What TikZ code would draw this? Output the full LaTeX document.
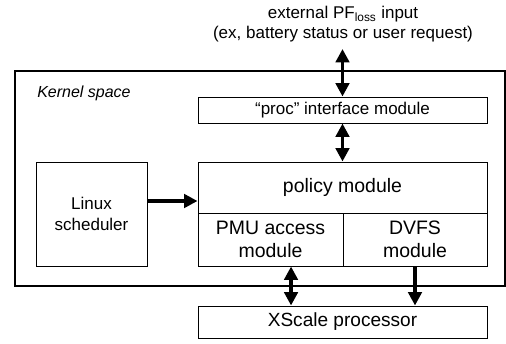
\documentclass[tikz,border=0pt]{standalone}
\usepackage{fontspec}
\setmainfont{Liberation Sans}
\usetikzlibrary{arrows.meta}

\tikzset{
	box/.style={draw, line width=0.75pt, inner sep=0pt, align=center},
	arr/.style={line width=2.6pt, -{Triangle[width=10pt,length=10pt]}},
	darr/.style={line width=2.6pt, {Triangle[width=10pt,length=10pt]}-{Triangle[width=10pt,length=10pt]}},
}

\begin{document}
\begin{tikzpicture}[x=0.75pt,y=0.75pt,yscale=-1,xscale=1]
	\useasboundingbox (0,0) rectangle (506,343);

	%Shape: Kernel space frame
	\draw [line width=1.9pt] (15,71) rectangle (505,286) ;
	% Text Node
	\node [anchor=west][inner sep=0pt][font=\fontsize{12}{14}\selectfont\itshape] (kernel) at (37,93) {Kernel space};

	% Text Node
	\node [align=center][inner sep=0pt][font=\fontsize{12.75}{15}\selectfont] (ext) at (343,24) {external PF\textsubscript{loss} input\\(ex, battery status or user request)};
	\coordinate (extin) at (342.5,49);

	%Shape: modules
	\node [box, minimum width=216.75pt, minimum height=19.5pt, font=\fontsize{12.75}{15}\selectfont] (proc) at (342.5,110) {“proc” interface module};
	\node [box, minimum width=216.75pt, minimum height=38.25pt, font=\fontsize{14.6}{17}\selectfont] (policy) at (342.5,187.5) {policy module};
	\node [box, minimum width=108.75pt, minimum height=39.75pt, font=\fontsize{14.6}{17.25}\selectfont] (pmu) at (270.5,239.5) {PMU access\\module};
	\node [box, minimum width=108pt, minimum height=39.75pt, font=\fontsize{14.6}{17.25}\selectfont] (dvfs) at (415,239.5) {DVFS\\module};
	\node [box, minimum width=83.25pt, minimum height=78pt, font=\fontsize{12.75}{15.75}\selectfont] (linux) at (91.5,214) {Linux\\scheduler};
	\node [box, minimum width=216.75pt, minimum height=24pt, font=\fontsize{14.3}{17}\selectfont] (xscale) at (342.5,322) {XScale processor};

	%Arrows
	\draw [darr] (extin) -- (proc.north) ;
	\draw [darr] (proc.south) -- (policy.north) ;
	\draw [arr] ([yshift=-9.75pt]linux.east) -- ([yshift=-9.75pt]linux.east -| policy.west) ;
	\draw [darr] ([xshift=15.4pt]pmu.south) -- ([xshift=15.4pt]pmu.south |- xscale.north) ;
	\draw [arr] (dvfs.south) -- (dvfs.south |- xscale.north) ;

\end{tikzpicture}
\end{document}
